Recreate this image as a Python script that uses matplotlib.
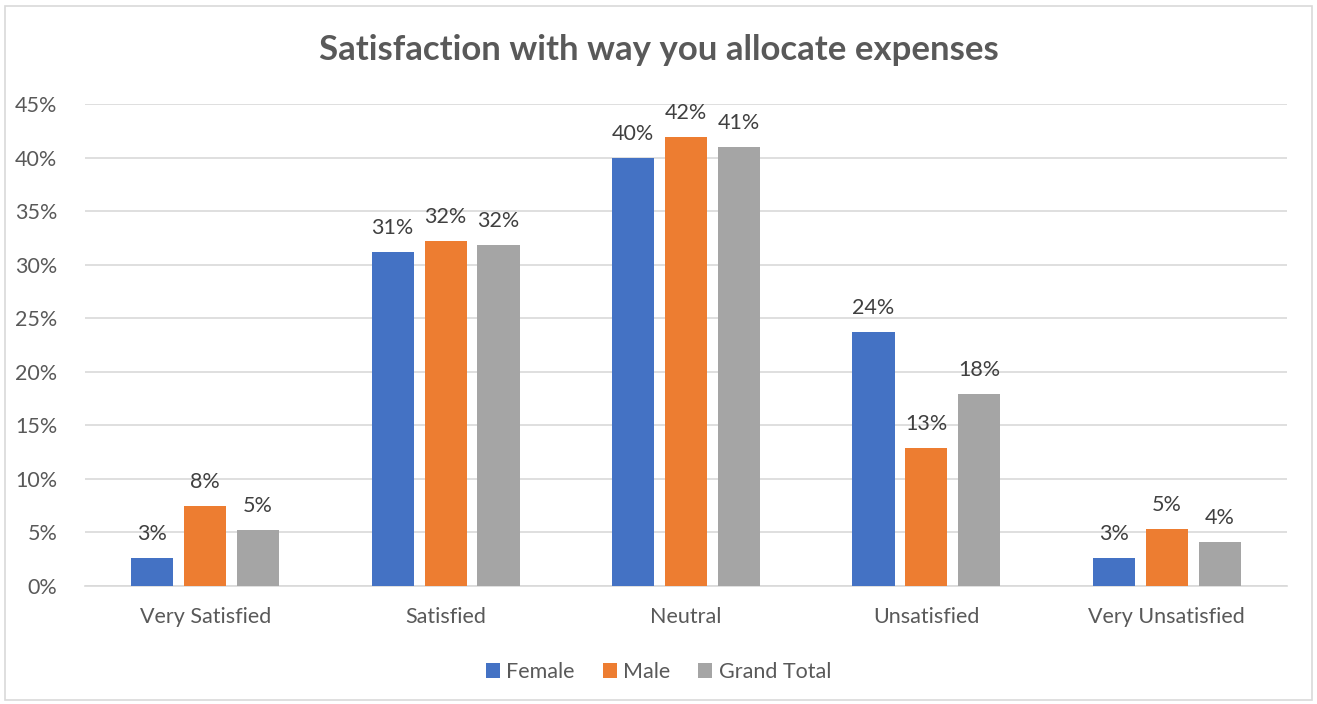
import numpy as np
import matplotlib
matplotlib.use('Agg')
import matplotlib.pyplot as plt
from matplotlib.patches import Rectangle

plt.rcParams['font.family'] = ['Lato', 'DejaVu Sans']

categories = ['Very Satisfied', 'Satisfied', 'Neutral', 'Unsatisfied', 'Very Unsatisfied']
female = [2.6, 31.2, 40.0, 23.7, 2.6]
male = [7.5, 32.2, 41.9, 12.9, 5.3]
grand_total = [5.2, 31.8, 41.0, 17.9, 4.1]
series_names = ['Female', 'Male', 'Grand Total']
colors = ['#4472C4', '#ED7D31', '#A5A5A5']
text_color = '#595959'

fig = plt.figure(figsize=(13.17, 7.04), dpi=100)
fig.patches.append(Rectangle((5 / 1317, 1 - 700 / 704), 1307 / 1317, 694 / 704,
                             transform=fig.transFigure, fill=False,
                             edgecolor='#D9D9D9', linewidth=1.2))
ax = fig.add_axes([85 / 1317, 1 - 586 / 704, 1202 / 1317, 482 / 704])

x = np.arange(len(categories))
width = 0.175
step = 0.22
for i, (vals, name, c) in enumerate(zip([female, male, grand_total], series_names, colors)):
    pos = x + (i - 1) * step
    bars = ax.bar(pos, vals, width, color=c, label=name, zorder=3)
    for b, v in zip(bars, vals):
        ax.text(b.get_x() + b.get_width() / 2, v + 1.3, f'{round(v):.0f}%',
                ha='center', va='bottom', fontsize=15.5, color='#404040')

ax.set_xlim(-0.5, 4.5)
ax.set_ylim(0, 45)
ax.set_yticks(np.arange(0, 46, 5))
ax.set_yticklabels([f'{t}%' for t in range(0, 46, 5)])
ax.set_xticks(x)
ax.set_xticklabels(categories)
ax.grid(axis='y', color='#D9D9D9', linewidth=1.2, zorder=0)
for s in ['top', 'right', 'left']:
    ax.spines[s].set_visible(False)
ax.spines['bottom'].set_color('#D9D9D9')
ax.spines['bottom'].set_linewidth(1.2)
ax.tick_params(axis='both', length=0, labelsize=15.5, colors=text_color)
ax.tick_params(axis='y', pad=20)
ax.tick_params(axis='x', pad=15)

fig.text(0.5, 1 - 50 / 704, 'Satisfaction with way you allocate expenses',
         ha='center', va='center', fontsize=25, fontweight='bold', color=text_color)

fig.legend(loc='center', bbox_to_anchor=(0.5, 1 - 672 / 704), ncol=3, frameon=False,
           fontsize=15.5, labelcolor=text_color, handlelength=0.65, handleheight=0.65,
           handletextpad=0.3, columnspacing=1.3)

fig.savefig('out.png', dpi=100)
